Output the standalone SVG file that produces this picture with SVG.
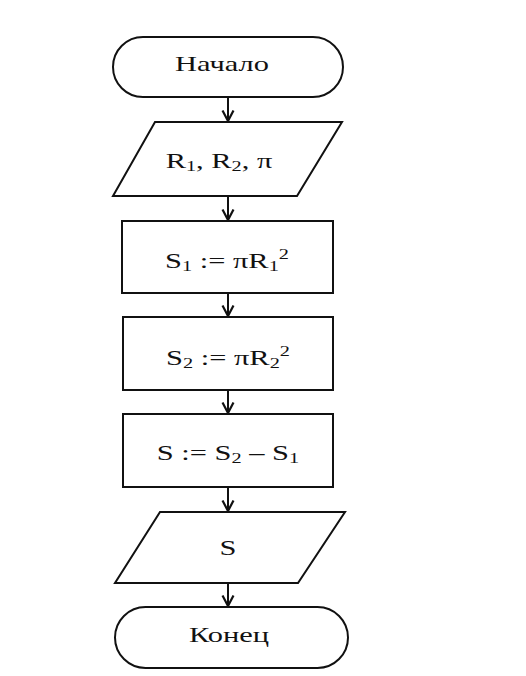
<svg xmlns="http://www.w3.org/2000/svg" width="526" height="676" viewBox="0 0 526 676">
<defs>
<marker id="arr" markerWidth="14" markerHeight="14" refX="12" refY="7" orient="auto" markerUnits="userSpaceOnUse" viewBox="0 0 14 14">
<path d="M1.5,1.5 L12,7 L1.5,12.5" fill="none" stroke="#111" stroke-width="2.2"/>
</marker>
<style>
.s{fill:#fff;stroke:#111;stroke-width:2}
.t{font-family:"Liberation Serif","Times New Roman",serif;font-size:21px;fill:#111;text-anchor:middle}
.c{stroke:#111;stroke-width:2;fill:none}
.sub{font-size:14px}
</style>
</defs>
<rect width="526" height="676" fill="#fff"/>
<g id="start">
<rect class="s" x="113" y="37" width="230" height="60" rx="30" ry="30"/>
<text class="t" x="0" y="71" transform="matrix(1.45,0,0,1,222,0)">Начало</text>
</g>
<g id="input">
<polygon class="s" points="155,122 342,122 297,196 113,196"/>
<text class="t" x="0" y="168" transform="matrix(1.45,0,0,1,219,0)">R<tspan class="sub" dy="3">1</tspan><tspan dy="-3">, R</tspan><tspan class="sub" dy="3">2</tspan><tspan dy="-3">, π</tspan></text>
</g>
<g id="s1">
<rect class="s" x="122" y="221" width="211" height="72"/>
<text class="t" x="0" y="268" transform="matrix(1.45,0,0,1,227,0)">S<tspan class="sub" dy="3">1</tspan><tspan dy="-3"> := πR</tspan><tspan class="sub" dy="3">1</tspan><tspan class="sub" dy="-12">2</tspan></text>
</g>
<g id="s2">
<rect class="s" x="123" y="317" width="210" height="73"/>
<text class="t" x="0" y="365" transform="matrix(1.45,0,0,1,228,0)">S<tspan class="sub" dy="3">2</tspan><tspan dy="-3"> := πR</tspan><tspan class="sub" dy="3">2</tspan><tspan class="sub" dy="-12">2</tspan></text>
</g>
<g id="s">
<rect class="s" x="123" y="414" width="210" height="73"/>
<text class="t" x="0" y="460" transform="matrix(1.45,0,0,1,228,0)">S := S<tspan class="sub" dy="3">2</tspan><tspan dy="-3"> – S</tspan><tspan class="sub" dy="3">1</tspan></text>
</g>
<g id="output">
<polygon class="s" points="160,512 345,512 298,583 115,583"/>
<text class="t" x="0" y="555" transform="matrix(1.45,0,0,1,228,0)">S</text>
</g>
<g id="end">
<rect class="s" x="115" y="607" width="233" height="61" rx="30.5" ry="30.5"/>
<text class="t" x="0" y="642" transform="matrix(1.45,0,0,1,229,0)">Конец</text>
</g>
<g id="connectors">
<line class="c" x1="228" y1="97" x2="228" y2="121" marker-end="url(#arr)"/>
<line class="c" x1="228" y1="196" x2="228" y2="220" marker-end="url(#arr)"/>
<line class="c" x1="228" y1="293" x2="228" y2="316" marker-end="url(#arr)"/>
<line class="c" x1="228" y1="390" x2="228" y2="413" marker-end="url(#arr)"/>
<line class="c" x1="228" y1="487" x2="228" y2="511" marker-end="url(#arr)"/>
<line class="c" x1="228" y1="583" x2="228" y2="606" marker-end="url(#arr)"/>
</g>
</svg>
